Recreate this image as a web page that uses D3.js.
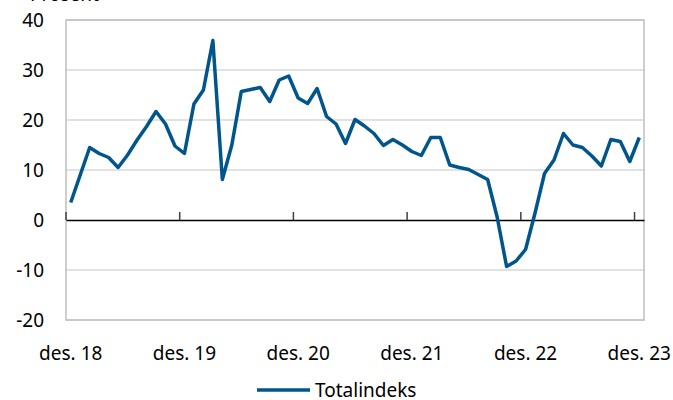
<!DOCTYPE html>
<html>
<head>
<meta charset="utf-8">
<script src="https://cdn.jsdelivr.net/npm/d3@7"></script>
<style>
  body { margin: 0; background: #fff; }
  svg { display: block; font-family: "Noto Sans", sans-serif; }
</style>
</head>
<body>
<div id="chart"></div>
<script>
// monthly, des. 2018 - des. 2023
var startMonth = new Date(2018, 11, 1),
    endMonth = new Date(2024, 0, 1);

var totalindeks = [
  3.5, 9, 14.5, 13.3, 12.5, 10.5, 13, 16, 18.7, 21.7,
  19.2, 14.8, 13.3, 23.2, 26, 35.9, 8.1, 15, 25.7, 26.1,
  26.5, 23.7, 28, 28.8, 24.4, 23.3, 26.3, 20.7, 19.2, 15.3,
  20.1, 18.8, 17.3, 14.9, 16.1, 15, 13.7, 12.9, 16.5, 16.5,
  11, 10.5, 10.1, 9.1, 8.1, 0.6, -9.3, -8.2, -5.9, 1.4,
  9.3, 12, 17.3, 15, 14.5, 12.8, 10.8, 16.1, 15.7, 11.7,
  16.5
];

var yTicks = [-20, -10, 0, 10, 20, 30, 40];
var tickLabels = ["des. 18", "des. 19", "des. 20", "des. 21", "des. 22", "des. 23"];
var seriesName = "Totalindeks";

var width = 673, height = 400;
var margin = {top: 20, right: 29, bottom: 80, left: 66};

var months = d3.timeMonth.range(startMonth, endMonth);

var svg = d3.select("#chart").append("svg")
    .attr("width", width)
    .attr("height", height);

var x = d3.scaleBand()
    .domain(months)
    .range([margin.left, width - margin.right]);

var y = d3.scaleLinear()
    .domain([-20, 40])
    .range([height - margin.bottom, margin.top]);

var xc = function(d) { return x(d) + x.bandwidth() / 2; };

// unit label, mostly above the picture's top edge as in the original
svg.append("text")
    .attr("x", 30)
    .attr("y", 1)
    .attr("font-size", "19px")
    .attr("fill", "#000")
    .text("Prosent");

// gridlines
svg.append("g")
    .selectAll("line")
    .data(yTicks.filter(function(d) { return d !== 0; }))
    .enter()
    .append("line")
    .attr("x1", margin.left)
    .attr("x2", width - margin.right)
    .attr("y1", function(d) { return y(d); })
    .attr("y2", function(d) { return y(d); })
    .attr("stroke", "#d9d9d9")
    .attr("stroke-width", 1.5);

// plot border
svg.append("rect")
    .attr("x", margin.left)
    .attr("y", margin.top)
    .attr("width", width - margin.left - margin.right)
    .attr("height", height - margin.top - margin.bottom)
    .attr("fill", "none")
    .attr("stroke", "#bfbfbf")
    .attr("stroke-width", 1.5);

// y labels
svg.append("g")
    .selectAll("text")
    .data(yTicks)
    .enter()
    .append("text")
    .attr("x", 44)
    .attr("y", function(d) { return y(d); })
    .attr("dy", "0.36em")
    .attr("text-anchor", "end")
    .attr("font-size", "19px")
    .attr("fill", "#000")
    .text(function(d) { return d; });

// zero axis with year ticks
var yearMonths = months.filter(function(d) { return d.getMonth() === 11; });

var xAxis = d3.axisTop(x)
    .tickValues(yearMonths)
    .tickSize(8)
    .tickSizeOuter(0)
    .tickFormat("");

var axisG = svg.append("g")
    .attr("transform", "translate(0," + y(0) + ")")
    .call(xAxis);

axisG.select(".domain")
    .attr("stroke", "#000")
    .attr("stroke-width", 1.5);

// ticks sit on the category boundaries
axisG.selectAll(".tick")
    .attr("transform", function(d) { return "translate(" + x(d) + ",0)"; });

axisG.selectAll(".tick line")
    .attr("stroke", "#404040")
    .attr("stroke-width", 1.5);

// line
var line = d3.line()
    .x(function(d, i) { return xc(months[i]); })
    .y(function(d) { return y(d); });

svg.append("path")
    .datum(totalindeks)
    .attr("d", line)
    .attr("fill", "none")
    .attr("stroke", "#00558c")
    .attr("stroke-width", 3.5)
    .attr("stroke-linejoin", "round");

// x labels, centred on the december categories
svg.append("g")
    .selectAll("text")
    .data(yearMonths)
    .enter()
    .append("text")
    .attr("x", function(d) { return xc(d); })
    .attr("y", 360)
    .attr("text-anchor", "middle")
    .attr("font-size", "19px")
    .attr("fill", "#000")
    .text(function(d, i) { return tickLabels[i]; });

// legend
var legend = svg.append("g");

legend.append("line")
    .attr("x1", 257)
    .attr("x2", 310)
    .attr("y1", 390)
    .attr("y2", 390)
    .attr("stroke", "#00558c")
    .attr("stroke-width", 3.5);

legend.append("text")
    .attr("x", 315)
    .attr("y", 397)
    .attr("font-size", "19px")
    .attr("fill", "#000")
    .text(seriesName);
</script>
</body>
</html>
